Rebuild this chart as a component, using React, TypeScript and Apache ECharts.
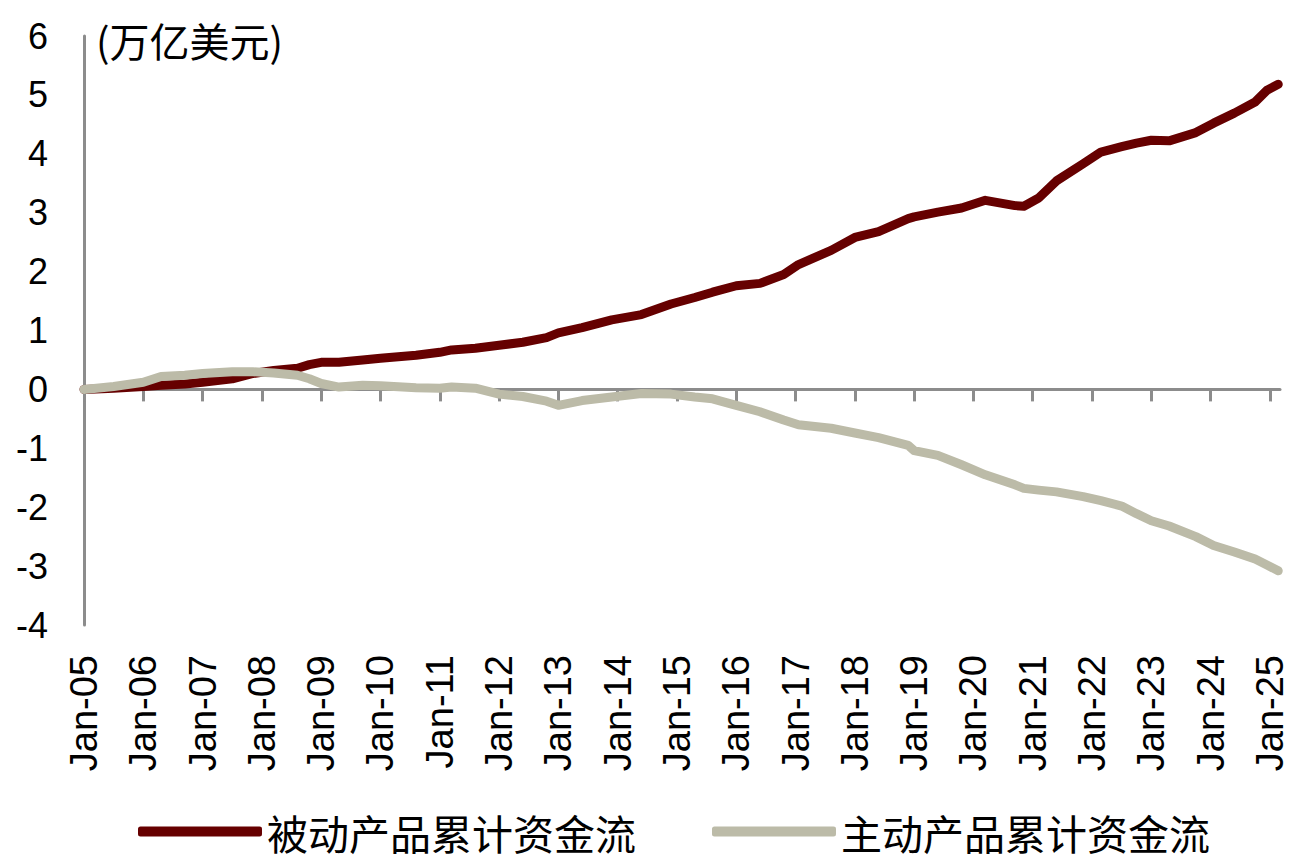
import React, { useEffect, useRef } from "react";
import * as echarts from "echarts";

// Time points (decimal years)
const times = [
  2005.0, 2005.5, 2006.0, 2006.3, 2006.7, 2007.0, 2007.5, 2007.85, 2008.2, 2008.6,
  2008.8, 2009.0, 2009.3, 2009.7, 2010.0, 2010.6, 2011.0, 2011.2, 2011.6, 2012.0,
  2012.4, 2012.8, 2013.0, 2013.4, 2013.9, 2014.4, 2014.9, 2015.3, 2015.6, 2016.0,
  2016.4, 2016.8, 2017.05, 2017.6, 2018.0, 2018.4, 2018.9, 2019.0, 2019.4, 2019.8,
  2020.2, 2020.7, 2020.85, 2021.1, 2021.4, 2021.85, 2022.15, 2022.5, 2022.75, 2023.0,
  2023.3, 2023.75, 2024.05, 2024.4, 2024.75, 2024.95, 2025.14,
];

// 被动产品累计资金流 (万亿美元)
const passive = [
  0.0, 0.02, 0.05, 0.07, 0.09, 0.12, 0.18, 0.27, 0.32, 0.36,
  0.42, 0.46, 0.46, 0.5, 0.53, 0.58, 0.63, 0.67, 0.7, 0.75,
  0.8, 0.88, 0.96, 1.05, 1.18, 1.27, 1.45, 1.56, 1.65, 1.76,
  1.8, 1.95, 2.12, 2.36, 2.58, 2.68, 2.9, 2.93, 3.01, 3.08,
  3.21, 3.12, 3.11, 3.25, 3.54, 3.83, 4.03, 4.12, 4.18, 4.23,
  4.22, 4.36, 4.52, 4.69, 4.88, 5.08, 5.18,
];

// 主动产品累计资金流 (万亿美元)
const active = [
  0.0, 0.05, 0.12, 0.22, 0.24, 0.27, 0.3, 0.3, 0.28, 0.24,
  0.18, 0.1, 0.04, 0.07, 0.06, 0.03, 0.02, 0.04, 0.02, -0.08,
  -0.12, -0.2, -0.27, -0.19, -0.13, -0.07, -0.08, -0.13, -0.16, -0.27,
  -0.38, -0.52, -0.6, -0.66, -0.74, -0.82, -0.95, -1.04, -1.12, -1.28,
  -1.45, -1.62, -1.68, -1.71, -1.74, -1.82, -1.89, -1.98, -2.11, -2.23,
  -2.32, -2.5, -2.65, -2.76, -2.88, -2.98, -3.08,
];

const tickYears = [
  2005, 2006, 2007, 2008, 2009, 2010, 2011, 2012, 2013, 2014, 2015,
  2016, 2017, 2018, 2019, 2020, 2021, 2022, 2023, 2024, 2025,
];

const seriesNames = ["被动产品累计资金流", "主动产品累计资金流"];
const unitLabel = "(万亿美元)";

const RED = "#660000";
const GRAY = "#BCBBA8";
const AXIS = "#8C8C8C";
const FONT = "'Liberation Sans', Arial, 'Noto Sans CJK SC', sans-serif";
const CJK = "'Noto Sans CJK SC', sans-serif";

export default function App() {
  const ref = useRef<HTMLDivElement>(null);

  useEffect(() => {
    document.body.style.margin = "0";
    if (!ref.current) return;
    const chart = echarts.init(ref.current, null, { renderer: "svg" });
    const xMin = 2005;
    const xMax = 2025.17;
    const fmt = (v: number) => "Jan-" + String(Math.round(v) % 100).padStart(2, "0");

    chart.setOption({
      animation: false,
      backgroundColor: "#ffffff",
      textStyle: { fontFamily: FONT },
      grid: { left: 84, right: 22, top: 36, bottom: 239, containLabel: false },
      legend: {
        left: 133,
        top: 806,
        itemWidth: 124,
        itemHeight: 10,
        itemGap: 76,
        icon: "roundRect",
        textStyle: { fontSize: 41, color: "#000", fontFamily: CJK, lineHeight: 41 },
        data: [
          { name: seriesNames[0], itemStyle: { color: RED } },
          { name: seriesNames[1], itemStyle: { color: GRAY } },
        ],
      },
      graphic: [
        {
          type: "text",
          x: 96,
          y: 40,
          style: {
            text: unitLabel,
            fontSize: 40,
            fill: "#000",
            fontFamily: CJK,
            verticalAlign: "middle",
          },
        },
      ],
      xAxis: [
        {
          type: "value",
          min: xMin,
          max: xMax,
          position: "bottom",
          axisLine: { show: false, onZero: false },
          axisTick: { show: false },
          splitLine: { show: false },
          axisLabel: {
            customValues: tickYears,
            rotate: 90,
            margin: 30,
            fontSize: 38,
            color: "#000",
            fontFamily: FONT,
            formatter: fmt,
          },
        },
        {
          type: "value",
          min: xMin,
          max: xMax,
          position: "top",
          axisLine: { show: true, onZero: true, lineStyle: { color: AXIS, width: 3 } },
          axisTick: {
            show: true,
            inside: true,
            customValues: tickYears,
            length: 12,
            lineStyle: { color: AXIS, width: 3 },
          },
          axisLabel: { show: false },
          splitLine: { show: false },
        },
      ],
      yAxis: {
        type: "value",
        min: -4,
        max: 6,
        interval: 1,
        axisLine: { show: true, onZero: false, lineStyle: { color: AXIS, width: 3 } },
        axisTick: { show: false },
        splitLine: { show: false },
        axisLabel: { fontSize: 36, color: "#000", margin: 36, fontFamily: FONT },
      },
      series: [
        {
          name: seriesNames[0],
          type: "line",
          xAxisIndex: 0,
          data: times.map((t, i) => [t, passive[i]]),
          showSymbol: false,
          symbol: "none",
          itemStyle: { color: RED },
          lineStyle: { color: RED, width: 9, cap: "round", join: "round" },
          z: 3,
        },
        {
          name: seriesNames[1],
          type: "line",
          xAxisIndex: 0,
          data: times.map((t, i) => [t, active[i]]),
          showSymbol: false,
          symbol: "none",
          itemStyle: { color: GRAY },
          lineStyle: { color: GRAY, width: 9, cap: "round", join: "round" },
          z: 4,
        },
      ],
    });
    return () => chart.dispose();
  }, []);

  return <div ref={ref} style={{ width: 1302, height: 864 }} />;
}
